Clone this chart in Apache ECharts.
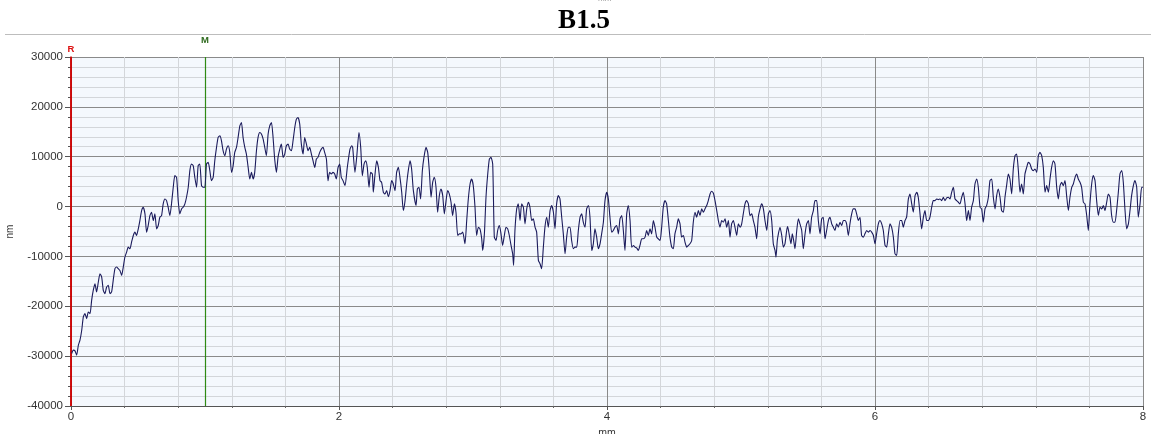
<!DOCTYPE html>
<html>
<head>
<meta charset="utf-8">
<script src="https://cdn.jsdelivr.net/npm/echarts@6/dist/echarts.min.js"></script>
<style>
html,body{margin:0;padding:0;background:#fff;}
#chart{width:1151px;height:434px;}
</style>
</head>
<body>
<div id="chart"></div>
<script>
// ---- data ----
const chartTitle = 'B1.5';
const xAxisName = 'mm';
const yAxisName = 'nm';
const refMarkerMm = 0;      // "R" marker
const measMarkerMm = 1;     // "M" marker

const posMm = [
0.005,0.017,0.030,0.042,0.055,0.067,0.080,0.092,0.104,0.117,0.129,0.142,0.154,0.166,0.179,0.191,0.204,0.216,0.229,0.241,
0.253,0.266,0.278,0.291,0.303,0.315,0.328,0.340,0.353,0.365,0.378,0.390,0.402,0.415,0.427,0.440,0.452,0.465,0.477,0.489,
0.502,0.514,0.527,0.539,0.552,0.564,0.576,0.589,0.601,0.614,0.626,0.639,0.651,0.663,0.676,0.688,0.701,0.713,0.725,0.738,
0.750,0.763,0.775,0.788,0.800,0.812,0.825,0.837,0.850,0.862,0.875,0.887,0.899,0.912,0.924,0.937,0.949,0.961,0.974,0.986,
0.999,1.011,1.024,1.036,1.048,1.061,1.073,1.086,1.098,1.111,1.123,1.135,1.148,1.160,1.173,1.185,1.198,1.210,1.222,1.235,
1.247,1.260,1.272,1.284,1.297,1.309,1.322,1.334,1.347,1.359,1.371,1.384,1.396,1.409,1.421,1.434,1.446,1.458,1.471,1.483,
1.496,1.508,1.520,1.533,1.545,1.558,1.570,1.583,1.595,1.607,1.620,1.632,1.645,1.657,1.670,1.682,1.694,1.707,1.719,1.732,
1.744,1.757,1.769,1.781,1.794,1.806,1.819,1.831,1.843,1.856,1.868,1.881,1.893,1.906,1.918,1.930,1.943,1.955,1.968,1.980,
1.993,2.005,2.017,2.030,
2.045,2.062,2.082,2.095,2.102,2.119,2.132,2.149,2.162,2.174,2.187,2.199,2.211,2.224,2.236,2.249,2.256,2.269,2.281,2.294,
2.306,2.318,2.331,2.343,2.356,2.368,2.381,2.393,2.405,2.418,2.430,2.443,2.455,2.468,2.480,2.493,2.505,2.517,2.530,2.542,
2.555,2.575,2.585,2.597,2.609,2.622,2.634,2.649,2.662,2.674,2.687,2.699,2.711,2.724,2.736,2.749,2.761,2.774,2.786,2.799,
2.811,2.823,2.836,2.848,2.861,2.873,2.886,2.898,2.910,2.923,2.940,2.953,2.965,2.978,2.990,3.002,3.015,3.027,3.040,3.052,
3.065,3.072,3.085,3.097,3.110,3.122,3.134,3.147,3.159,3.172,3.184,3.197,3.209,3.221,3.234,3.246,3.259,3.271,3.284,3.296,
3.303,3.313,3.326,3.338,3.351,3.363,3.376,3.388,3.401,3.413,3.425,3.438,3.450,3.463,3.475,3.488,3.500,3.512,3.525,3.537,
3.550,3.562,3.575,3.587,3.600,3.612,3.624,3.637,3.649,3.662,3.674,3.687,3.699,3.711,3.724,3.736,3.749,3.761,3.774,3.786,
3.799,3.811,3.823,3.836,3.848,3.861,3.873,3.886,3.898,3.910,3.923,3.935,3.948,3.960,3.973,3.985,3.998,4.010,4.022,4.035,
4.047,4.060,4.072,4.085,4.097,4.110,4.122,4.134,4.147,4.159,4.172,4.184,4.197,4.209,4.221,4.234,4.246,4.259,4.271,4.284,
4.296,4.308,4.321,4.333,4.346,4.358,4.371,4.383,4.396,4.408,4.420,4.433,4.445,4.458,4.470,4.483,4.495,4.507,4.520,4.532,
4.545,4.557,4.570,4.582,4.595,4.607,4.619,4.632,4.644,4.657,4.669,4.682,4.694,4.707,4.719,4.731,4.744,4.756,4.769,4.781,
4.794,4.806,4.819,4.831,4.843,4.856,4.868,4.881,4.893,4.906,4.918,4.930,4.943,4.955,4.968,4.980,4.993,
5.005,5.017,5.030,5.042,5.055,5.067,5.080,5.092,5.104,5.117,5.129,5.142,5.154,5.167,5.179,5.192,5.204,5.216,5.229,5.241,
5.254,5.261,5.271,5.279,5.291,5.304,5.316,5.328,5.341,5.348,5.361,5.373,5.383,5.393,5.403,5.416,5.428,5.440,5.453,5.465,
5.478,5.490,5.503,5.515,5.527,5.540,5.552,5.565,5.577,5.590,5.602,5.614,5.627,5.639,5.652,5.664,5.677,5.689,5.701,5.714,
5.726,5.739,5.751,5.764,5.776,5.788,5.801,5.813,5.826,5.838,5.851,5.863,5.876,5.888,5.900,5.913,5.925,5.938,5.950,5.963,
5.975,5.988,6.000,6.012,6.025,6.037,6.050,6.062,6.075,6.087,6.100,6.112,6.124,6.137,6.149,6.162,6.174,6.187,6.199,6.211,
6.224,6.236,6.249,6.261,6.274,6.286,6.299,6.311,6.323,6.336,6.348,6.361,6.373,6.386,6.398,6.410,6.423,6.435,6.448,6.460,
6.473,6.485,6.498,6.510,6.522,6.535,6.547,6.560,6.572,6.585,6.597,6.609,6.622,6.634,6.647,6.659,6.672,6.684,6.697,6.709,
6.721,6.734,6.746,6.759,6.771,6.784,6.796,6.808,6.821,6.833,6.846,6.858,6.871,6.883,6.896,6.908,6.920,6.933,6.945,6.958,
6.970,6.982,6.995,7.007,7.020,7.032,7.045,7.057,7.070,7.082,7.094,7.107,7.119,7.132,7.144,7.157,7.169,7.182,7.194,7.207,
7.219,7.231,7.244,7.256,7.269,7.281,7.294,7.306,7.318,7.331,7.343,7.356,7.368,7.381,7.393,7.405,7.418,7.430,7.443,7.455,
7.468,7.480,7.493,7.505,7.517,7.530,7.542,7.555,7.567,7.580,7.592,7.604,7.617,7.629,7.642,7.654,7.667,7.679,7.692,7.704,
7.716,7.729,7.741,7.754,7.766,7.779,7.791,7.803,7.816,7.828,7.841,7.853,7.866,7.878,7.891,7.903,7.915,7.928,7.940,7.953,
7.965,7.978,7.990,8.000
];

const heightNm = [
-29467,-28800,-28933,-29800,-27800,-26800,-24800,-22133,-21467,-22467,-21133,-21467,-18800,-16800,-15467,-17133,-15133,-13467,-14133,-16800,
-17467,-16133,-15800,-17467,-17133,-14800,-12467,-12133,-12467,-12800,-13800,-12133,-10133,-9133,-8133,-8467,-7133,-5800,-5133,-5800,
-4467,-2800,-800,-133,-1467,-5133,-3800,-1800,-1133,-2800,-1467,-4467,-3800,-2133,-1800,533,1533,1200,-133,-1800,
533,3867,6200,5867,1200,-1467,-467,-133,533,1867,3867,7200,8533,8200,5867,3867,8200,8533,4200,3867,
3867,8533,8867,7200,5200,5867,9200,11867,13867,14200,13200,11200,10200,11533,12200,10867,6867,8200,10867,11867,
13867,16200,16867,13867,11867,10533,7867,5533,6867,5533,6867,11200,13867,14867,14533,13533,11867,10200,14533,16200,
16867,13867,9533,6867,9867,11533,12533,9867,10533,12200,12533,11533,11200,13200,15867,17533,17867,16533,12533,10533,
13867,12533,11200,11867,10533,9200,7867,9533,9867,10867,11533,11867,10867,9533,5200,6867,6533,6867,6533,5533,
7867,8533,5867,5200,
4200,7867,11533,12200,11867,6867,9867,14867,11867,6200,8533,9200,7867,3867,6867,6533,2867,6533,9200,7867,
5200,4867,2867,2533,3200,2000,3200,5200,4533,3200,6867,7867,5867,2867,-800,1200,4533,7200,9200,7533,
3200,200,3533,3867,1533,7200,9867,11867,10867,7200,1867,4867,5867,3867,-1133,2200,3533,2200,-1467,1200,
3200,2533,867,-1800,533,-1133,-5800,-5467,-5467,-5133,-7467,-2800,1533,4533,5533,4200,-133,-5800,-4133,-4467,
-6467,-8800,-5467,1867,6533,9533,9867,8533,-6133,-6800,-4800,-3800,-5467,-7800,-5800,-4133,-4467,-5800,-7800,-9467,
-11800,-4800,-467,533,-2800,533,-133,-3467,-467,867,-133,-2800,-2467,-4133,-5133,-10800,-11467,-12467,-8133,-4133,
-2133,-4133,-800,200,-1133,-4467,533,2200,1533,-2133,-5467,-9467,-6133,-4133,-4133,-6800,-8467,-8133,-8133,-4800,
-2133,-1467,-3133,-4133,-467,200,-2133,-8800,-7467,-4467,-6133,-8467,-7467,-5467,-3133,1200,2867,1533,-2133,-5133,
-4800,-4133,-3800,-5467,-2467,-1800,-4800,-8800,-1467,200,-2800,-8133,-7800,-8133,-8267,-8800,-7800,-6467,-6467,-6133,
-4800,-5800,-4467,-5467,-2800,-4133,-6133,-6467,-6800,-4133,-133,1200,533,-2800,-6133,-8133,-8467,-5467,-4133,-2467,
-3467,-6133,-5800,-7133,-8133,-7800,-7467,-6800,-3133,-1133,-2133,-800,-1800,-467,-1133,-467,200,1200,2533,3067,
2667,1200,-800,-2800,-4133,-2800,-3133,-2467,-4133,-2800,-6133,-3467,-2800,-4133,-5800,-3467,-4133,
-3467,-1467,533,1200,533,-1800,-1467,-2800,-4133,-6467,-2133,-467,533,-467,-2800,-4800,-1467,-800,-2800,-7467,
-8800,-10133,-6800,-5467,-4133,-5800,-8133,-7467,-4800,-4000,-5800,-7467,-5467,-6800,-8467,-4800,-2467,-3467,-4800,-8467,
-5467,-3467,-2800,-5467,-2133,-800,1200,1200,-2800,-5467,-2467,-2133,-6467,-4800,-2800,-2133,-3467,-4133,-4800,-3467,
-4133,-3133,-3800,-2800,-2800,-3467,-5800,-3467,-1467,-467,-467,-1467,-2800,-2133,-5800,-6133,-5467,-4800,-5133,-4800,
-5133,-5800,-7467,-5467,-3467,-2800,-3467,-4800,-7800,-8133,-5467,-3467,-4133,-6133,-9467,-9800,-5467,-2800,-2800,-4133,
-2800,-2133,1533,2533,533,-1133,2200,2867,1867,-1467,-4467,-2133,-800,-2800,-2800,-2133,-133,1200,1200,1533,
1400,1533,1200,1867,1200,1733,1867,1533,2867,3867,1533,1200,867,533,1867,2867,533,-2800,-800,-2800,
-133,1200,4533,5533,3867,-133,-467,-3133,-467,200,1867,5200,5533,1867,-467,2200,3533,1867,-800,-1133,
1867,4200,6533,5533,2533,7533,10200,10533,7200,2867,4533,2533,6533,7867,8867,8533,7533,7200,7533,6867,
10200,10867,10200,7867,2867,4200,2867,5533,7867,9200,8533,3867,1533,4200,4867,4200,5200,2200,-800,1867,
3867,4533,5867,6533,5533,4867,3867,867,533,-1800,-4800,533,4533,6200,5200,1200,-1800,-133,-467,200,
-800,867,2533,1867,-1800,-3133,-3133,-800,2867,6533,7200,4867,-800,-4467,-3467,-800,2200,4200,5200,3867,
-2133,533,3867,3867
];

const xTicks = { min: 0, max: 8, step: 2, minorSplit: 5 };
const yTicks = { min: -40000, max: 30000, step: 10000, minorSplit: 5 };

// ---- chart ----
const chart = echarts.init(document.getElementById('chart'), null, { renderer: 'canvas' });
const profile = posMm.map((x, i) => [x, heightNm[i]]);
const labelFont = 'Liberation Sans, Arial, sans-serif';

chart.setOption({
  animation: false,
  backgroundColor: '#ffffff',
  grid: {
    left: 71, right: 8, top: 57, bottom: 28,
    containLabel: false,
    outerBoundsMode: 'none',
    show: true, backgroundColor: '#f4f8fd', borderWidth: 0
  },
  graphic: [
    { type: 'text', left: 598, top: -5, style: { text: 'mm', fill: '#999', fontSize: 8, fontFamily: labelFont } },
    { type: 'text', x: 584, y: 8, style: { text: chartTitle, fill: '#000', fontSize: 27, fontWeight: 'bold', fontFamily: 'Liberation Serif, Times New Roman, serif', align: 'center', verticalAlign: 'top' } },
    { type: 'line', shape: { x1: 5, y1: 34.5, x2: 1151, y2: 34.5 }, style: { stroke: '#bdbdbd', lineWidth: 1 } }
  ],
  xAxis: {
    type: 'value',
    min: xTicks.min, max: xTicks.max, interval: xTicks.step,
    name: xAxisName, nameLocation: 'middle', nameGap: 16,
    nameTextStyle: { color: '#333', fontSize: 10.5, fontFamily: labelFont },
    axisLine: { show: true, onZero: false, lineStyle: { color: '#555', width: 1.2 } },
    axisTick: { show: true, length: 4, lineStyle: { color: '#555' } },
    minorTick: { show: true, splitNumber: xTicks.minorSplit, length: 2, lineStyle: { color: '#666' } },
    axisLabel: { color: '#333', fontSize: 11.5, margin: 5, fontFamily: labelFont, formatter: v => String(v) },
    splitLine: { show: true, lineStyle: { color: '#8a8a8a', width: 1 } },
    minorSplitLine: { show: true, lineStyle: { color: '#d3d6da', width: 1 } }
  },
  yAxis: {
    type: 'value',
    min: yTicks.min, max: yTicks.max, interval: yTicks.step,
    name: yAxisName, nameLocation: 'middle', nameGap: 56,
    nameTextStyle: { color: '#333', fontSize: 10, fontFamily: labelFont },
    axisLine: { show: true, onZero: false, lineStyle: { color: '#cc0000', width: 1.5 } },
    axisTick: { show: true, length: 6, lineStyle: { color: '#555' } },
    minorTick: { show: true, splitNumber: yTicks.minorSplit, length: 3, lineStyle: { color: '#555' } },
    axisLabel: { color: '#333', fontSize: 11.5, margin: 8, fontFamily: labelFont, formatter: v => String(v) },
    splitLine: { show: true, lineStyle: { color: '#8a8a8a', width: 1 } },
    minorSplitLine: { show: true, lineStyle: { color: '#d3d6da', width: 1 } }
  },
  series: [{
    type: 'line',
    data: profile,
    showSymbol: false,
    symbol: 'none',
    smooth: 0.2,
    lineStyle: { color: '#1b1b5c', width: 1.1 },
    z: 5,
    markLine: {
      silent: true,
      symbol: 'none',
      animation: false,
      data: [
        { xAxis: measMarkerMm, lineStyle: { color: '#2f8a14', width: 1.2, type: 'solid' },
          label: { show: true, position: 'end', formatter: 'M', color: '#2f6b1f', fontWeight: 'bold', fontSize: 9.5, distance: 12, fontFamily: labelFont } },
        { xAxis: refMarkerMm, lineStyle: { color: '#cc0000', width: 1.5, type: 'solid' },
          label: { show: true, position: 'end', formatter: 'R', color: '#dd1111', fontWeight: 'bold', fontSize: 9.5, distance: 3, fontFamily: labelFont } }
      ]
    }
  }]
});
</script>
</body>
</html>
